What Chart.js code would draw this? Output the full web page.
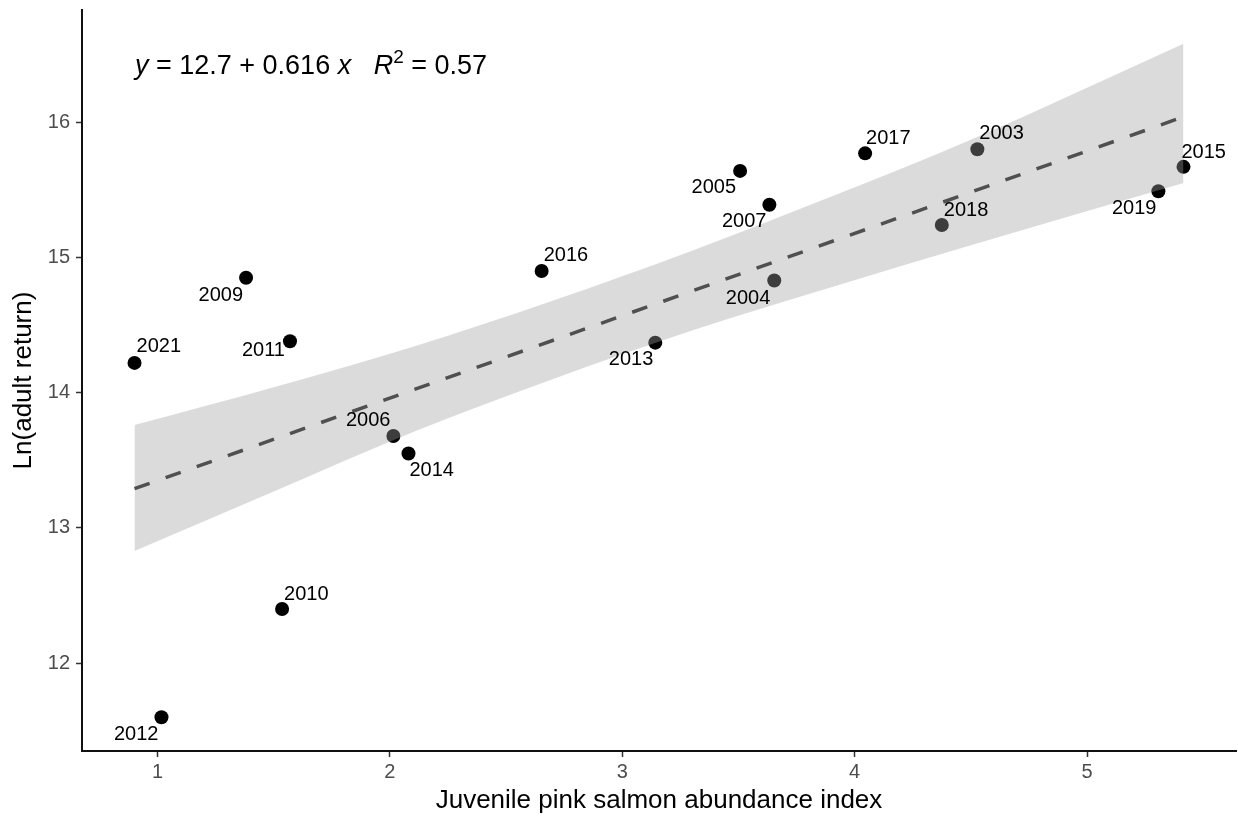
<!DOCTYPE html>
<html>
<head>
<meta charset="utf-8">
<script src="https://cdn.jsdelivr.net/npm/chart.js@4.4.1/dist/chart.umd.min.js"></script>
<style>
  html, body { margin: 0; padding: 0; background: #fff; overflow: hidden; }
  #wrap { width: 1238px; height: 819px; overflow: hidden; }
</style>
</head>
<body>
<div id="wrap"><canvas id="salmon-chart" width="1243" height="819"></canvas></div>
<script>
// observed years (point labels)
const years = [2021, 2009, 2011, 2016, 2006, 2014, 2010, 2012, 2013, 2005, 2007, 2004, 2017, 2018, 2003, 2015, 2019];
const juvenileIndex = [0.901, 1.381, 1.570, 2.653, 2.015, 2.080, 1.536, 1.017, 3.142, 3.507, 3.633, 3.654, 4.045, 4.375, 4.528, 5.415, 5.307];
const lnAdultReturn = [14.22, 14.85, 14.38, 14.90, 13.68, 13.55, 12.40, 11.60, 14.37, 15.64, 15.39, 14.83, 15.77, 15.24, 15.80, 15.67, 15.49];

// fitted line and its confidence band
const fitX = [0.901, 5.415];
const fitY = [13.29, 16.04];
const bandX = [0.901, 1.5, 2.1, 2.7, 3.3, 3.9, 4.5, 5.415];
const bandUpper = [13.76, 14.04, 14.34, 14.68, 15.05, 15.45, 15.87, 16.58];
const bandLower = [12.83, 13.27, 13.71, 14.10, 14.46, 14.78, 15.09, 15.55];

const xTicks = [1, 2, 3, 4, 5];
const yTicks = [12, 13, 14, 15, 16];
const xRange = [0.675, 5.641];
const yRange = [11.35, 16.83];

// where each year label sits next to its point: [dx, dy, align]
const labelPlacement = {
  2021: [2, -16, 'left'], 2009: [-3, 18, 'right'], 2011: [-5, 9, 'right'],
  2016: [2, -15, 'left'], 2006: [-3, -15, 'right'], 2014: [1, 17, 'left'],
  2010: [2, -15, 'left'], 2012: [-3, 17, 'right'], 2013: [-2, 17, 'right'],
  2005: [-4, 17, 'right'], 2007: [-3, 17, 'right'], 2004: [-4, 18, 'right'],
  2017: [1, -15, 'left'], 2018: [2, -15, 'left'], 2003: [2, -16, 'left'],
  2015: [-2, -14, 'left'], 2019: [-2, 17, 'right']
};

const FONT = "'Liberation Sans', Arial, sans-serif";

function toXY(xs, ys) {
  return xs.map((x, i) => ({ x: x, y: ys[i] }));
}

// year labels on top of everything
const yearLabels = {
  id: 'yearLabels',
  afterDatasetsDraw(chart) {
    const ctx = chart.ctx;
    const meta = chart.getDatasetMeta(0);
    ctx.save();
    ctx.font = '20px ' + FONT;
    ctx.fillStyle = '#000';
    ctx.textBaseline = 'middle';
    meta.data.forEach((pt, i) => {
      const p = labelPlacement[years[i]];
      ctx.textAlign = p[2];
      ctx.fillText(String(years[i]), pt.x + p[0], pt.y + p[1]);
    });
    ctx.restore();
  }
};

// regression equation in the top-left corner
const equation = {
  id: 'equation',
  afterDraw(chart) {
    const ctx = chart.ctx;
    const area = chart.chartArea;
    let x = area.left + 53;
    const y = area.top + 64;
    const parts = [
      ['y', 'italic 27px ', 0],
      [' = 12.7 + 0.616 ', '27px ', 0],
      ['x', 'italic 27px ', 0],
      ['   ', '27px ', 0],
      ['R', 'italic 27px ', 0],
      ['2', '19px ', -11],
      [' = 0.57', '27px ', 0]
    ];
    ctx.save();
    ctx.fillStyle = '#000';
    ctx.textBaseline = 'alphabetic';
    ctx.textAlign = 'left';
    parts.forEach(([txt, f, rise]) => {
      ctx.font = f + FONT;
      ctx.fillText(txt, x, y + rise);
      x += ctx.measureText(txt).width;
    });
    ctx.restore();
  }
};

new Chart(document.getElementById('salmon-chart').getContext('2d'), {
  type: 'line',
  data: {
    datasets: [
      {
        label: 'Observed',
        data: toXY(juvenileIndex, lnAdultReturn),
        showLine: false,
        pointRadius: 7,
        pointHoverRadius: 7,
        pointBackgroundColor: '#000',
        pointBorderWidth: 0,
        order: 2
      },
      {
        label: 'upper',
        data: toXY(bandX, bandUpper),
        borderWidth: 0,
        pointRadius: 0,
        cubicInterpolationMode: 'monotone',
        fill: '+1',
        backgroundColor: 'rgba(160,160,160,0.38)',
        order: 1
      },
      {
        label: 'lower',
        data: toXY(bandX, bandLower),
        borderWidth: 0,
        pointRadius: 0,
        cubicInterpolationMode: 'monotone',
        fill: false,
        order: 1
      },
      {
        label: 'fit',
        data: toXY(fitX, fitY),
        borderColor: '#505050',
        borderWidth: 3.5,
        borderDash: [16, 17],
        pointRadius: 0,
        fill: false,
        order: 0
      }
    ]
  },
  options: {
    responsive: false,
    animation: false,
    events: [],
    layout: { padding: { top: 10, right: 2, left: 0, bottom: 0 } },
    plugins: { legend: { display: false }, tooltip: { enabled: false } },
    scales: {
      x: {
        type: 'linear',
        min: xRange[0],
        max: xRange[1],
        afterBuildTicks: s => { s.ticks = xTicks.map(v => ({ value: v })); },
        afterFit: s => { s.height = 68; s.paddingLeft = 0; s.paddingRight = 0; },
        grid: { drawOnChartArea: false, tickLength: 6, tickColor: '#333', tickWidth: 1.5 },
        border: { color: '#111', width: 2 },
        ticks: { color: '#4d4d4d', font: { family: FONT, size: 20 }, padding: 3 },
        title: {
          display: true,
          text: 'Juvenile pink salmon abundance index',
          color: '#000',
          font: { family: FONT, size: 26 },
          padding: { top: 0, bottom: 3 }
        }
      },
      y: {
        type: 'linear',
        min: yRange[0],
        max: yRange[1],
        afterBuildTicks: s => { s.ticks = yTicks.map(v => ({ value: v })); },
        afterFit: s => { s.width = 82; s.paddingTop = 0; s.paddingBottom = 0; },
        grid: { drawOnChartArea: false, tickLength: 6, tickColor: '#333', tickWidth: 1.5 },
        border: { color: '#111', width: 2 },
        ticks: { color: '#4d4d4d', font: { family: FONT, size: 20 }, padding: 6 },
        title: {
          display: true,
          text: 'Ln(adult return)',
          color: '#000',
          font: { family: FONT, size: 26 },
          padding: { top: 8, bottom: 0 }
        }
      }
    }
  },
  plugins: [yearLabels, equation]
});
</script>
</body>
</html>
